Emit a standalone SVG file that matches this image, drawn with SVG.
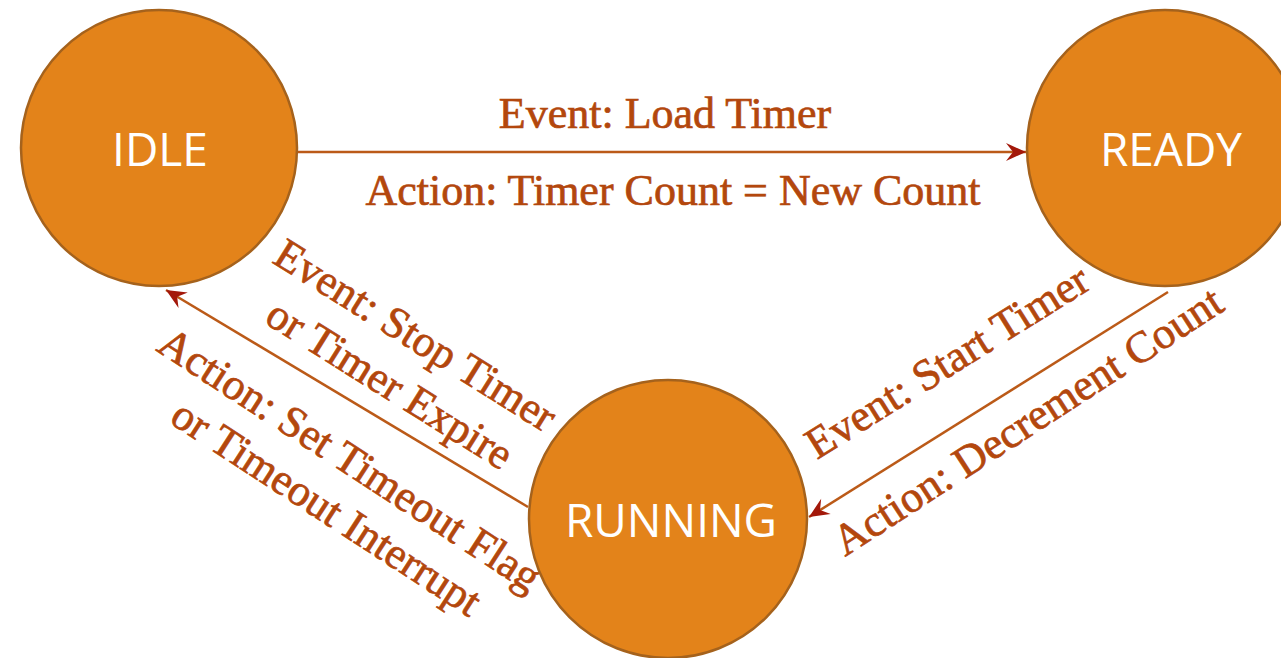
<svg xmlns="http://www.w3.org/2000/svg" width="1281" height="658" viewBox="0 0 1281 658">
  <style>
    .state { fill: #e3831a; stroke: #a5621c; stroke-width: 2.5; }
    .state-label { fill: #ffffff; font-family: "Open Sans", "Noto Sans", sans-serif; font-size: 46px; text-anchor: middle; }
    .edge { stroke: #bb5a18; stroke-width: 2.5; fill: none; }
    .edge-label { fill: #b3470d; stroke: #b3470d; stroke-width: 0.7; font-family: "Liberation Serif", "Times New Roman", serif; font-size: 44px; }
  </style>
  <defs>
    <marker id="arrow" markerUnits="userSpaceOnUse" viewBox="-22 -12 24 24" refX="0" refY="0" markerWidth="24" markerHeight="24" orient="auto">
      <path d="M0,0 L-20,-9 L-13,0 L-20,9 Z" fill="#a3180a"/>
    </marker>
  </defs>

  <rect width="1281" height="658" fill="#ffffff"/>

  <!-- transitions -->
  <g id="connectors">
    <path class="edge" d="M296,152 L1026,152" marker-end="url(#arrow)"/>
    <path class="edge" d="M1168,292 L809,517" marker-end="url(#arrow)"/>
    <path class="edge" d="M528,507 L166,290" marker-end="url(#arrow)"/>
  </g>

  <!-- transition labels -->
  <g id="label-load">
    <text class="edge-label" x="665" y="128" text-anchor="middle">Event: Load Timer</text>
    <text class="edge-label" x="673" y="205" text-anchor="middle">Action: Timer Count = New Count</text>
  </g>
  <g id="label-start">
    <text class="edge-label" transform="translate(817,460) rotate(-32)">Event: Start Timer</text>
    <text class="edge-label" transform="translate(845,557) rotate(-33)">Action: Decrement Count</text>
  </g>
  <g id="label-stop">
    <text class="edge-label" transform="translate(271,262) rotate(32)">Event: Stop Timer</text>
    <text class="edge-label" transform="translate(263,322) rotate(32)">or Timer Expire</text>
    <text class="edge-label" transform="translate(155,350) rotate(33)">Action: Set Timeout Flag</text>
    <text class="edge-label" transform="translate(168,422) rotate(33)">or Timeout Interrupt</text>
  </g>

  <!-- states -->
  <g id="idle">
    <circle class="state" cx="159" cy="148" r="138"/>
    <text class="state-label" x="160" y="166">IDLE</text>
  </g>
  <g id="ready">
    <circle class="state" cx="1165" cy="148" r="138"/>
    <text class="state-label" x="1171" y="166">READY</text>
  </g>
  <g id="running">
    <circle class="state" cx="668" cy="519" r="139"/>
    <text class="state-label" x="671" y="537">RUNNING</text>
  </g>
</svg>
